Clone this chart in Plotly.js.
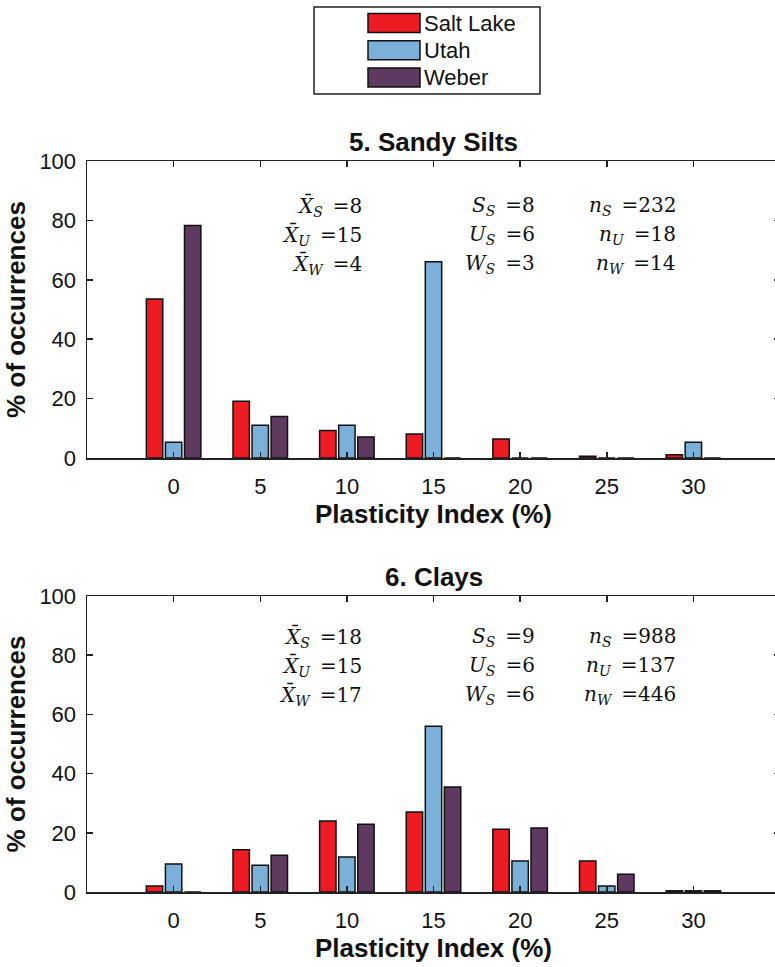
<!DOCTYPE html>
<html>
<head>
<meta charset="utf-8">
<script src="https://cdn.plot.ly/plotly-3.0.1.min.js"></script>
<style>
html,body{margin:0;padding:0;background:#fff;overflow:hidden;width:775px;height:967px;}
#chart{width:790px;height:967px;}
</style>
</head>
<body>
<div id="chart"></div>
<script>
// ---- data ----
const piBins = [0, 5, 10, 15, 20, 25, 30];
const seriesNames = ['Salt Lake', 'Utah', 'Weber'];
const seriesColors = ['#ED1C24', '#7BB0D8', '#5E3960'];

const siltsSaltLake = [53.5, 19.1, 9.3, 8.1, 6.4, 0.6, 1.1];
const siltsUtah     = [5.3, 11.0, 11.0, 66.1, 0, 0, 5.3];
const siltsWeber    = [78.3, 14.0, 7.1, 0, 0, 0, 0];

const claysSaltLake = [2.0, 14.3, 24.0, 27.0, 21.2, 10.5, 0.4];
const claysUtah     = [9.5, 9.0, 11.8, 56.0, 10.5, 2.0, 0.4];
const claysWeber    = [0, 12.4, 22.9, 35.5, 21.6, 6.0, 0.4];

const panelTitles = ['5. Sandy Silts', '6. Clays'];
const xTitle = 'Plasticity Index (%)';
const yTitle = '% of occurrences';

// statistics text: means, std devs, counts (S = Salt Lake, U = Utah, W = Weber)
const siltsMeans = [8, 15, 4];
const siltsStds  = [8, 6, 3];
const siltsCounts = [232, 18, 14];
const claysMeans = [18, 15, 17];
const claysStds  = [9, 6, 6];
const claysCounts = [988, 137, 446];
const subs = ['S', 'U', 'W'];

// ---- traces ----
const siltsData = [siltsSaltLake, siltsUtah, siltsWeber];
const claysData = [claysSaltLake, claysUtah, claysWeber];
const traces = [];
[[siltsData, 'x', 'y'], [claysData, 'x2', 'y2']].forEach(([sets, xa, ya]) => {
  sets.forEach((vals, i) => {
    traces.push({
      type: 'bar', x: piBins, y: vals, name: seriesNames[i],
      xaxis: xa, yaxis: ya, showlegend: false,
      marker: {color: seriesColors[i], line: {color: '#111', width: 1.5}},
      hoverinfo: 'x+y+name'
    });
  });
});

// ---- layout ----
const sans = 'Liberation Sans, Arial, sans-serif';
const tickFont = {family: sans, size: 22, color: '#111'};
const titleFont = {family: sans, size: 26, color: '#111'};
function xAxis(anchor) {
  return {
    anchor: anchor, range: [-5, 35], tickvals: piBins, ticktext: piBins.map(String),
    ticks: 'inside', ticklen: 6, tickwidth: 1.5, tickcolor: '#222', mirror: 'ticks',
    showline: true, linecolor: '#222', linewidth: 1.5, showgrid: false, zeroline: false,
    tickfont: tickFont, ticklabelstandoff: 8, fixedrange: true,
    title: {text: '<b>' + xTitle + '</b>', font: titleFont, standoff: 4}
  };
}
function yAxis(anchor, domain) {
  return {
    anchor: anchor, domain: domain, range: [0, 100], tickvals: [0, 20, 40, 60, 80, 100],
    ticks: 'inside', ticklen: 6, tickwidth: 1.5, tickcolor: '#222', mirror: 'ticks',
    showline: true, linecolor: '#222', linewidth: 1.5, showgrid: false, zeroline: false,
    tickfont: tickFont, ticklabelstandoff: 5, fixedrange: true,
    title: {text: '<b>' + yTitle + '</b>', font: titleFont, standoff: 6}
  };
}

const serif = {family: 'DejaVu Serif, Liberation Serif, serif', size: 20, color: '#111'};
const annotations = [];
function statBlock(means, stds, counts, yref, ys) {
  for (let k = 0; k < 3; k++) {
    annotations.push({xref: 'x', yref: yref, x: 11.0, y: ys[k], xanchor: 'right', yanchor: 'middle',
      showarrow: false, font: serif,
      text: '<i>X\u0304</i><sub><i>' + subs[k] + '</i></sub>\u2002=' + means[k]});
    annotations.push({xref: 'x', yref: yref, x: 21.0, y: ys[k], xanchor: 'right', yanchor: 'middle',
      showarrow: false, font: serif,
      text: '<i>' + subs[k] + '</i><sub><i>S</i></sub>\u2002=' + stds[k]});
    annotations.push({xref: 'x', yref: yref, x: 29.1, y: ys[k], xanchor: 'right', yanchor: 'middle',
      showarrow: false, font: serif,
      text: '<i>n</i><sub><i>' + subs[k] + '</i></sub>\u2002=' + counts[k]});
  }
}
statBlock(siltsMeans, siltsStds, siltsCounts, 'y', [84.8, 75.0, 65.3]);
statBlock(claysMeans, claysStds, claysCounts, 'y2', [86.0, 76.2, 66.4]);

// panel titles
annotations.push({xref: 'x domain', yref: 'y domain', x: 0.5, y: 1, yanchor: 'bottom', yshift: 2,
  showarrow: false, text: '<b>' + panelTitles[0] + '</b>', font: titleFont});
annotations.push({xref: 'x2 domain', yref: 'y2 domain', x: 0.5, y: 1, yanchor: 'bottom', yshift: 2,
  showarrow: false, text: '<b>' + panelTitles[1] + '</b>', font: titleFont});

// custom legend (box, swatches, labels) in pixel-based paper coords
const W = 790, H = 967, mL = 87, mR = 10, mT = 161, mB = 75;
const pw = W - mL - mR, ph = H - mT - mB;
const px = v => (v - mL) / pw;
const py = v => (H - mB - v) / ph;
const shapes = [];
shapes.push({type: 'rect', xref: 'paper', yref: 'paper', x0: px(314), x1: px(540), y0: py(94), y1: py(7),
  line: {color: '#222', width: 1.5}, fillcolor: 'rgba(0,0,0,0)'});
seriesNames.forEach((nm, i) => {
  const cy = 23 + i * 27.3;
  shapes.push({type: 'rect', xref: 'paper', yref: 'paper', x0: px(368), x1: px(420), y0: py(cy + 9.5), y1: py(cy - 9.5),
    line: {color: '#111', width: 1.5}, fillcolor: seriesColors[i]});
  annotations.push({xref: 'paper', yref: 'paper', x: px(422), y: py(cy), xanchor: 'left', yanchor: 'middle',
    showarrow: false, text: nm, font: {family: sans, size: 22, color: '#111'}});
});

const layout = {
  width: W, height: H, paper_bgcolor: '#fff', plot_bgcolor: '#fff',
  margin: {l: mL, r: mR, t: mT, b: mB},
  barmode: 'group', bargap: 0.34, bargroupgap: 0.14,
  showlegend: false,
  xaxis: xAxis('y'), yaxis: yAxis('x', [0.5937, 1]),
  xaxis2: xAxis('y2'), yaxis2: yAxis('x2', [0, 0.4049]),
  annotations: annotations, shapes: shapes
};

Plotly.newPlot('chart', traces, layout, {displayModeBar: false, staticPlot: true});
</script>
</body>
</html>
